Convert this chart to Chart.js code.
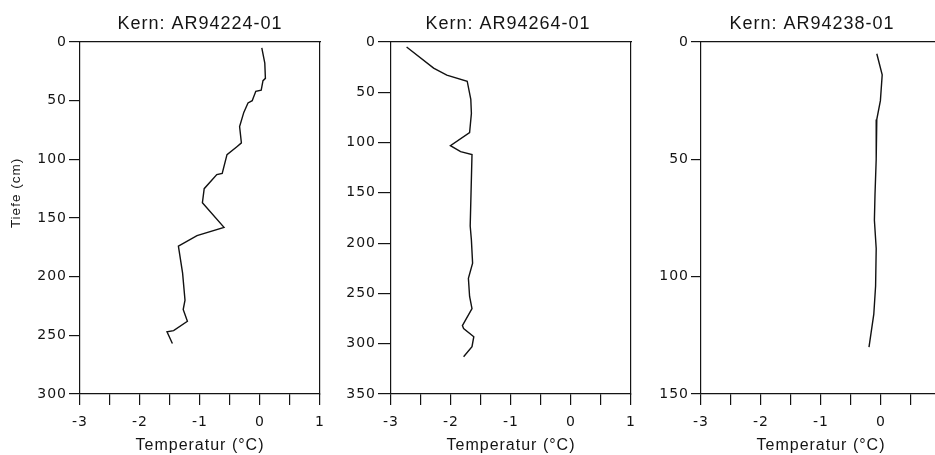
<!DOCTYPE html>
<html>
<head>
<meta charset="utf-8">
<script src="https://cdn.jsdelivr.net/npm/chart.js@4.4.1/dist/chart.umd.min.js"></script>
<style>
  html, body { margin: 0; padding: 0; background: #fff; overflow: hidden; width: 935px; height: 455px; }
  canvas { position: absolute; top: 0; }
</style>
</head>
<body>
<canvas id="k1" width="400" height="455" style="left:0px"></canvas>
<canvas id="k2" width="356" height="455" style="left:330px"></canvas>
<canvas id="k3" width="344" height="455" style="left:640px"></canvas>
<script>
// Temperature profiles in three sediment cores (depth in cm, temperature in °C)
const coreNames = ['Kern: AR94224-01', 'Kern: AR94264-01', 'Kern: AR94238-01'];

const depth1 = [5, 18, 31, 33, 41, 42, 50, 52, 60, 72, 86, 89, 96, 112, 113, 125, 137, 158, 165, 174, 197, 220, 228, 238, 246, 247, 257];
const temp1  = [0.03, 0.08, 0.09, 0.05, 0.02, -0.07, -0.13, -0.2, -0.27, -0.34, -0.31, -0.38, -0.55, -0.63, -0.72, -0.93, -0.96, -0.6, -1.05, -1.36, -1.29, -1.25, -1.28, -1.21, -1.44, -1.55, -1.46];

const depth2 = [5, 26, 33, 39, 57, 71, 90, 103, 109, 112, 183, 197, 220, 235, 253, 265, 282, 285, 293, 303, 313];
const temp2  = [-2.74, -2.29, -2.07, -1.73, -1.67, -1.66, -1.69, -2.01, -1.84, -1.65, -1.68, -1.66, -1.64, -1.71, -1.69, -1.65, -1.81, -1.79, -1.62, -1.65, -1.79];

const depth3 = [5, 14, 25, 33, 50, 65, 76, 88, 104, 116, 130];
const temp3  = [-0.07, 0.02, -0.01, -0.07, -0.08, -0.1, -0.11, -0.08, -0.09, -0.12, -0.2];

const depthMax = [300, 350, 150];
const depthStep = 50;
const tempMin = -3, tempMax = 1, tempStep = 0.5;

const xTitle = 'Temperatur (°C)';
const yTitle = 'Tiefe (cm)';

const profiles = [
  { depth: depth1, temp: temp1 },
  { depth: depth2, temp: temp2 },
  { depth: depth3, temp: temp3 }
];

// frame geometry of each panel inside its canvas
const frames = [
  { canvas: 'k1', left: 80, right: 80, yTick: 11 },
  { canvas: 'k2', left: 61, right: 55, yTick: 13 },
  { canvas: 'k3', left: 61, right: 43, yTick: 10 }
];

const ink = '#141414';
const tickFont = { family: 'DejaVu Sans', size: 14 };
const textFamily = 'Liberation Sans';

// slight tracking of all canvas text
const tracking = {
  id: 'tracking',
  beforeUpdate(chart) { chart.ctx.letterSpacing = '1px'; },
  beforeDraw(chart) { chart.ctx.letterSpacing = '1px'; }
};

// rotated depth caption beside the first panel
const sideCaption = {
  id: 'sideCaption',
  afterDraw(chart, args, opts) {
    if (!opts.text) return;
    const c = chart.ctx;
    c.save();
    c.letterSpacing = '1px';
    c.translate(opts.x, opts.y);
    c.rotate(-Math.PI / 2);
    c.font = '13.5px "' + textFamily + '"';
    c.fillStyle = ink;
    c.textAlign = 'center';
    c.textBaseline = 'middle';
    c.fillText(opts.text, 0, 0);
    c.restore();
  }
};

profiles.forEach((p, i) => {
  const f = frames[i];
  const points = p.depth.map((d, k) => ({ x: p.temp[k], y: d }));
  new Chart(document.getElementById(f.canvas), {
    type: 'scatter',
    data: {
      datasets: [{
        data: points,
        showLine: true,
        borderColor: '#111',
        borderWidth: 1.4,
        pointRadius: 0,
        tension: 0,
        fill: false
      }]
    },
    plugins: [tracking, sideCaption],
    options: {
      responsive: false,
      animation: false,
      events: [],
      layout: { padding: 0 },
      plugins: {
        legend: { display: false },
        tooltip: { enabled: false },
        title: {
          display: true,
          text: coreNames[i],
          color: ink,
          font: { family: textFamily, size: 18, weight: 'normal', lineHeight: 1.2 },
          padding: { top: 13.4, bottom: 7 }
        },
        sideCaption: i === 0 ? { text: yTitle, x: 16.5, y: 193 } : {}
      },
      scales: {
        x: {
          type: 'linear',
          position: 'bottom',
          min: tempMin,
          max: tempMax,
          afterFit(s) { s.height = 61; },
          ticks: {
            stepSize: tempStep,
            autoSkip: false,
            maxRotation: 0,
            padding: 9,
            color: ink,
            font: tickFont,
            callback: v => Number.isInteger(v) ? String(v) : ''
          },
          grid: { drawOnChartArea: false, drawTicks: true, tickLength: 11, color: ink, lineWidth: 1.2 },
          border: { display: true, color: ink, width: 1.2 },
          title: {
            display: true,
            text: xTitle,
            color: ink,
            font: { family: textFamily, size: 16, lineHeight: 1.2 },
            padding: { top: 0, bottom: 0 }
          }
        },
        x2: {
          type: 'linear',
          position: 'top',
          min: tempMin,
          max: tempMax,
          afterFit(s) { s.height = 0; },
          ticks: { display: false },
          grid: { drawOnChartArea: false, drawTicks: false },
          border: { display: true, color: ink, width: 1.2 }
        },
        y: {
          type: 'linear',
          position: 'left',
          reverse: true,
          min: 0,
          max: depthMax[i],
          afterFit(s) { s.width = f.left; },
          ticks: { stepSize: depthStep, autoSkip: false, padding: 2, color: ink, font: tickFont },
          grid: { drawOnChartArea: false, drawTicks: true, tickLength: f.yTick, color: ink, lineWidth: 1.2 },
          border: { display: true, color: ink, width: 1.2 }
        },
        y2: {
          type: 'linear',
          position: 'right',
          reverse: true,
          min: 0,
          max: depthMax[i],
          afterFit(s) { s.width = f.right; },
          ticks: { display: false },
          grid: { drawOnChartArea: false, drawTicks: false },
          border: { display: true, color: ink, width: 1.2 }
        }
      }
    }
  });
});
</script>
</body>
</html>
